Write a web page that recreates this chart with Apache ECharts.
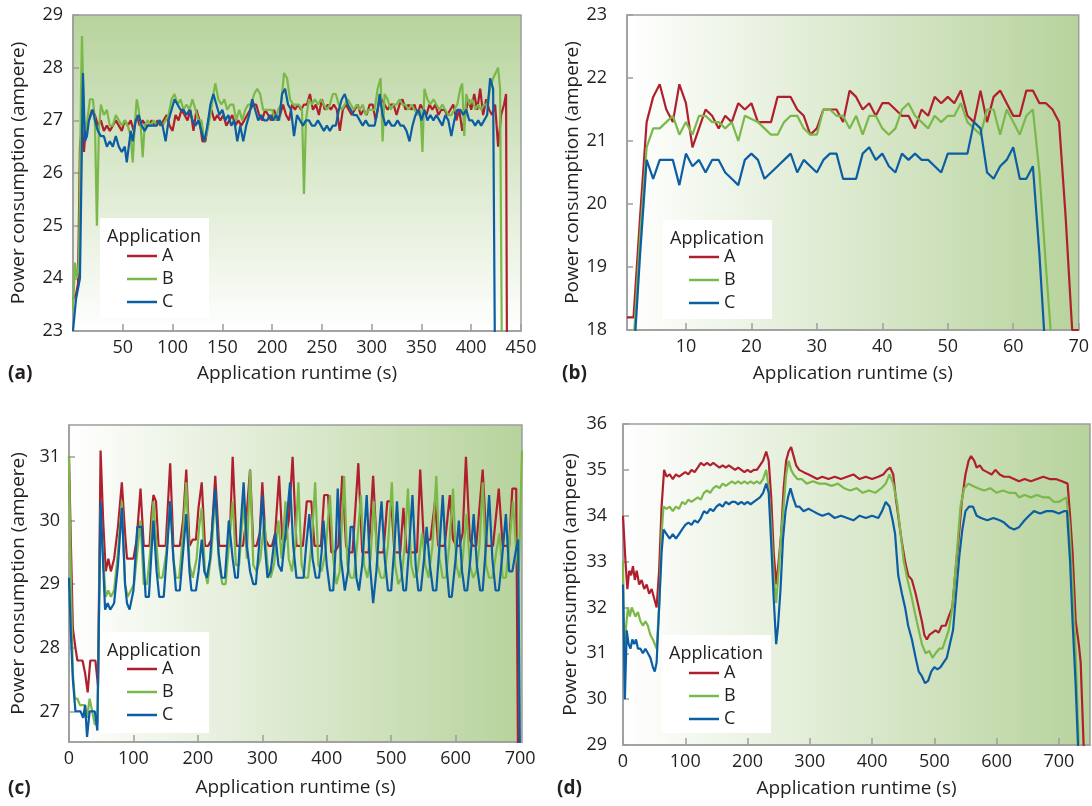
<!DOCTYPE html>
<html>
<head>
<meta charset="utf-8">
<script src="https://cdn.jsdelivr.net/npm/echarts@6.0.0/dist/echarts.min.js"></script>
<style>
  html, body { margin: 0; padding: 0; background: #fff; }
  #chart { width: 1092px; height: 806px; }
</style>
</head>
<body>
<div id="chart"></div>
<script>
// ---- panel (a): [runtime s, ampere]
var aA = [[0,23.6],[3,23.7],[5,23.9],[7,26.5],[9,26.9],[11,26.4],[13,26.9],[16,27.0],[19,27.2],[22,27.1],[25,26.9],[28,27.0],[31,26.8],[34,26.9],[37,26.8],[40,26.9],[43,27.0],[46,26.9],[49,26.8],[52,27.0],[55,26.9],[58,27.0],[61,26.8],[64,27.1],[67,26.9],[70,27.0],[73,26.9],[76,26.9],[79,27.0],[82,26.9],[85,27.0],[88,26.9],[91,27.0],[94,27.1],[97,26.9],[100,26.8],[103,27.1],[106,27.0],[109,27.2],[112,27.1],[115,27.0],[118,27.2],[121,26.8],[124,27.2],[127,27.0],[130,26.6],[133,26.6],[136,27.0],[139,27.2],[142,27.0],[145,27.1],[148,27.0],[151,27.1],[154,26.9],[157,27.0],[160,27.1],[163,26.9],[166,27.0],[169,26.9],[172,27.0],[175,27.1],[178,27.2],[181,27.3],[184,27.3],[187,27.1],[190,27.0],[193,27.2],[196,27.1],[199,27.0],[202,27.2],[205,27.0],[208,27.1],[211,27.3],[214,27.1],[217,27.0],[220,27.3],[223,27.2],[226,27.3],[229,27.2],[232,27.3],[235,27.3],[238,27.5],[241,27.2],[244,27.3],[247,27.1],[250,27.4],[253,27.2],[256,27.3],[259,27.2],[262,27.3],[265,27.2],[268,26.8],[271,27.2],[274,27.3],[277,27.2],[280,27.1],[283,27.2],[286,27.3],[289,27.1],[292,27.2],[295,27.1],[298,27.3],[301,27.3],[304,27.0],[307,27.3],[310,27.4],[313,27.3],[316,27.2],[319,27.3],[322,27.3],[325,27.1],[328,27.3],[331,27.4],[334,27.2],[337,27.3],[340,27.2],[343,27.3],[346,27.1],[349,27.3],[352,27.2],[355,27.1],[358,27.3],[361,27.2],[364,27.3],[367,27.1],[370,27.2],[373,27.2],[376,27.1],[379,27.2],[382,27.3],[385,27.0],[388,27.2],[391,26.8],[394,27.1],[397,27.4],[400,27.2],[403,27.5],[406,27.2],[409,27.6],[412,27.1],[415,27.4],[418,27.2],[421,27.1],[424,27.3],[427,26.5],[430,27.1],[433,27.3],[435,27.5],[436,22.0]];
var aB = [[0,23.4],[2,24.3],[4,24.0],[6,24.3],[8,27.5],[9,28.6],[11,27.0],[13,26.8],[15,27.1],[17,27.4],[20,27.4],[22,27.0],[24,25.0],[26,26.8],[28,27.3],[31,27.1],[34,27.2],[37,26.9],[40,26.9],[43,27.1],[46,27.0],[49,26.9],[52,27.0],[55,26.9],[58,26.7],[60,26.2],[62,26.9],[64,27.4],[66,27.2],[68,26.9],[70,26.3],[72,26.9],[75,27.0],[78,26.9],[81,27.0],[84,26.9],[87,27.0],[90,26.9],[93,27.0],[96,27.1],[99,27.4],[102,27.5],[105,27.3],[108,27.4],[111,27.2],[114,27.3],[117,27.2],[120,27.4],[123,27.2],[126,27.0],[129,27.0],[132,26.6],[135,26.8],[138,27.1],[141,27.5],[143,27.7],[146,27.4],[149,27.3],[152,27.4],[155,27.2],[158,27.3],[161,27.3],[164,27.0],[167,27.2],[170,27.0],[173,27.2],[176,27.3],[179,27.3],[182,27.5],[185,27.6],[188,27.5],[191,27.2],[194,27.2],[197,27.2],[200,27.2],[203,27.0],[206,27.2],[209,27.3],[212,27.9],[215,27.8],[218,27.4],[221,27.3],[224,27.3],[227,27.3],[230,27.2],[232,25.6],[234,27.0],[237,27.4],[240,27.3],[243,27.4],[246,27.3],[249,27.4],[252,27.3],[255,27.2],[258,27.3],[261,27.5],[264,27.5],[267,27.3],[270,27.2],[273,27.3],[276,27.4],[279,27.3],[282,27.2],[285,27.3],[288,27.2],[291,27.3],[294,27.1],[297,27.2],[300,27.2],[303,27.2],[306,27.6],[309,27.8],[311,26.6],[313,27.5],[316,27.4],[319,27.2],[322,27.3],[325,27.3],[328,27.4],[331,27.3],[334,27.3],[337,27.2],[340,27.3],[343,27.2],[346,27.1],[349,27.2],[351,26.4],[353,27.6],[356,27.4],[359,27.3],[362,27.4],[365,27.3],[368,27.2],[371,27.3],[374,27.2],[377,27.1],[380,27.1],[383,27.2],[386,27.3],[389,27.6],[391,27.7],[393,26.7],[395,27.5],[398,27.3],[401,27.4],[404,27.2],[407,27.3],[410,27.2],[413,27.3],[416,27.3],[419,27.6],[422,27.8],[424,27.8],[427,28.0],[429,27.6],[431,22.0]];
var aC = [[0,23.0],[3,23.6],[5,23.6],[7,24.0],[10,27.9],[12,26.6],[14,26.7],[16,27.0],[18,27.1],[20,27.2],[22,27.0],[25,26.8],[28,26.7],[31,26.7],[34,26.5],[37,26.6],[40,26.5],[43,26.7],[46,26.5],[49,26.4],[52,26.5],[54,26.2],[56,26.2],[58,26.8],[60,26.6],[63,27.0],[66,27.1],[69,26.9],[72,26.8],[75,26.9],[78,26.9],[81,26.9],[84,26.9],[87,27.0],[90,26.9],[93,26.6],[96,27.0],[99,27.2],[102,27.4],[105,27.3],[108,27.2],[111,27.2],[114,27.1],[117,27.2],[120,27.0],[123,26.9],[126,27.0],[129,26.8],[132,26.6],[135,26.9],[138,27.3],[141,27.5],[144,27.3],[147,27.1],[150,27.2],[153,27.0],[156,27.1],[159,26.9],[162,27.0],[165,26.6],[168,26.9],[171,26.6],[174,26.9],[177,27.1],[180,27.4],[183,27.2],[186,27.0],[189,27.1],[192,27.0],[195,27.0],[198,27.1],[201,27.0],[204,27.1],[207,27.0],[210,27.5],[213,27.6],[216,27.3],[219,27.2],[222,26.7],[225,27.1],[228,27.0],[231,26.9],[234,27.0],[237,27.0],[240,26.9],[243,26.9],[246,27.0],[249,26.9],[252,26.8],[255,26.9],[258,26.8],[261,26.9],[264,26.9],[267,27.2],[270,27.4],[273,27.5],[276,27.3],[279,27.2],[282,27.1],[285,27.1],[288,27.0],[291,26.9],[294,27.0],[297,26.9],[300,26.9],[303,26.9],[306,27.2],[308,27.5],[311,27.1],[314,26.9],[317,27.0],[320,26.9],[323,26.9],[326,27.0],[329,26.9],[332,26.9],[335,26.8],[338,26.6],[341,26.9],[344,27.1],[347,27.2],[350,27.0],[353,27.2],[356,27.0],[359,27.1],[362,27.0],[365,27.1],[368,27.0],[371,26.9],[374,27.1],[377,27.0],[380,26.7],[383,27.0],[386,27.2],[389,27.2],[392,27.1],[395,27.2],[398,27.0],[401,27.0],[404,26.9],[407,27.0],[410,26.9],[413,27.0],[416,27.1],[419,27.8],[422,27.6],[424,22.0]];

// ---- panel (b): one sample per second
var bTime = [1,2,3,4,5,6,7,8,9,10,11,12,13,14,15,16,17,18,19,20,21,22,23,24,25,26,27,28,29,30,31,32,33,34,35,36,37,38,39,40,41,42,43,44,45,46,47,48,49,50,51,52,53,54,55,56,57,58,59,60,61,62,63,64,65,66,67,68,69,70];
var bA = [18.2,18.2,19.8,21.3,21.7,21.9,21.5,21.3,21.9,21.6,20.9,21.2,21.5,21.4,21.2,21.4,21.3,21.6,21.5,21.6,21.3,21.3,21.3,21.7,21.7,21.7,21.5,21.4,21.1,21.2,21.5,21.5,21.5,21.3,21.8,21.7,21.5,21.6,21.4,21.6,21.6,21.5,21.4,21.4,21.2,21.5,21.4,21.7,21.6,21.7,21.6,21.8,21.4,21.3,21.8,21.3,21.7,21.8,21.6,21.4,21.4,21.8,21.8,21.6,21.6,21.5,21.3,19.8,18.0,18.0];
var bB = [17.0,17.8,19.5,20.9,21.2,21.2,21.3,21.4,21.1,21.3,21.1,21.4,21.4,21.3,21.3,21.2,21.3,21.0,21.4,21.35,21.3,21.2,21.1,21.1,21.3,21.4,21.4,21.2,21.1,21.1,21.5,21.5,21.4,21.4,21.2,21.4,21.1,21.4,21.4,21.2,21.1,21.2,21.5,21.6,21.4,21.3,21.2,21.4,21.3,21.4,21.4,21.6,21.3,21.2,21.1,21.5,21.5,21.1,21.5,21.3,21.1,21.4,21.5,20.5,19.0,17.6,17.0,17.0,17.0,17.0];
var bC = [17.0,17.5,19.2,20.7,20.4,20.7,20.7,20.7,20.3,20.8,20.6,20.7,20.5,20.7,20.7,20.5,20.4,20.3,20.7,20.8,20.7,20.4,20.5,20.6,20.7,20.8,20.5,20.7,20.6,20.5,20.7,20.8,20.8,20.4,20.4,20.4,20.8,20.9,20.7,20.8,20.6,20.5,20.8,20.7,20.8,20.7,20.7,20.6,20.5,20.8,20.8,20.8,20.8,21.3,21.2,20.5,20.4,20.6,20.7,20.9,20.4,20.4,20.6,19.2,17.5,17.0,17.0,17.0,17.0,17.0];

// ---- panel (c)
var cA = [[0,31.0],[3,29.6],[6,28.3],[10,28.0],[13,27.8],[17,27.8],[21,27.8],[25,27.6],[29,27.3],[33,27.8],[37,27.8],[41,27.8],[45,27.4],[49,31.1],[53,30.0],[57,29.2],[61,29.4],[65,29.2],[70,29.4],[76,29.9],[82,30.6],[87,29.8],[90,29.4],[95,29.4],[100,29.4],[105,29.7],[111,30.5],[116,29.6],[121,29.6],[125,29.6],[128,30.1],[131,30.4],[135,30.3],[139,29.6],[144,29.6],[150,29.6],[157,30.9],[162,29.6],[167,29.6],[172,29.6],[177,30.0],[182,30.8],[187,29.6],[192,29.7],[197,29.7],[201,30.2],[206,30.6],[211,29.6],[216,29.6],[221,29.7],[227,30.7],[233,29.6],[238,29.6],[243,29.6],[249,29.6],[254,31.0],[260,29.6],[265,29.6],[270,29.6],[275,30.0],[281,30.8],[286,29.6],[291,29.6],[296,29.8],[300,30.6],[305,29.7],[310,29.6],[315,29.6],[320,29.8],[326,30.7],[331,29.7],[336,29.7],[341,30.0],[347,31.0],[353,29.6],[358,29.6],[363,29.6],[369,30.3],[376,30.3],[381,29.6],[386,29.6],[391,29.6],[396,30.4],[402,30.4],[407,29.5],[412,29.5],[418,29.6],[424,30.7],[430,29.6],[435,29.5],[440,29.5],[449,30.9],[455,29.5],[460,29.5],[465,29.5],[472,30.7],[478,29.5],[483,29.5],[488,29.5],[494,30.3],[500,30.3],[505,29.5],[510,29.5],[514,29.5],[519,30.2],[524,29.5],[529,29.5],[535,29.5],[540,29.5],[545,30.8],[551,29.6],[556,29.7],[561,29.7],[568,30.3],[573,29.6],[578,29.6],[583,29.6],[591,30.4],[596,29.7],[601,29.6],[606,29.6],[611,29.8],[616,31.0],[622,29.7],[627,29.6],[632,29.6],[642,30.8],[648,29.6],[653,29.6],[658,29.6],[667,30.5],[673,29.6],[678,29.6],[683,29.6],[688,30.5],[694,30.5],[697,26.0]];
var cB = [[0,31.0],[3,29.0],[6,27.6],[9,27.2],[13,27.2],[17,27.1],[21,27.1],[25,27.1],[28,26.9],[32,27.2],[36,27.0],[40,26.8],[44,26.8],[49,30.2],[53,29.4],[57,28.8],[61,28.9],[65,28.8],[70,28.9],[76,29.5],[82,30.3],[87,29.0],[91,28.8],[96,28.9],[101,29.0],[106,29.5],[111,30.0],[116,29.0],[121,29.0],[126,29.5],[131,30.3],[136,29.6],[140,29.1],[145,29.1],[151,29.5],[157,30.3],[162,29.4],[166,29.1],[171,29.1],[177,29.8],[182,30.6],[187,29.3],[192,29.1],[198,29.4],[202,29.9],[206,30.2],[211,29.2],[215,29.0],[221,29.5],[227,30.4],[233,29.3],[238,29.0],[243,29.0],[248,29.6],[254,30.3],[259,29.3],[264,29.3],[271,30.3],[276,29.4],[281,30.8],[286,29.3],[291,29.2],[297,29.4],[303,30.0],[308,29.3],[313,29.1],[318,29.3],[325,30.0],[330,29.4],[336,30.3],[341,29.4],[346,29.2],[351,29.6],[356,30.6],[361,29.3],[366,29.1],[371,29.1],[377,29.7],[382,30.6],[387,29.3],[392,29.2],[398,29.5],[405,30.4],[410,29.4],[415,29.0],[420,29.2],[427,30.7],[432,29.3],[437,29.1],[442,29.1],[447,29.6],[453,30.4],[458,29.3],[463,29.1],[468,29.4],[473,30.3],[479,29.3],[484,29.1],[489,29.1],[495,29.6],[501,30.6],[506,29.3],[511,29.0],[516,29.1],[521,29.6],[526,30.5],[531,29.3],[536,29.1],[541,29.2],[548,29.8],[553,29.3],[558,29.1],[564,29.6],[570,30.7],[575,29.4],[580,29.1],[585,29.1],[590,29.6],[596,30.5],[601,29.3],[606,29.1],[611,29.4],[617,30.1],[622,29.3],[627,29.1],[632,29.2],[637,29.6],[642,30.6],[647,29.3],[652,29.1],[657,29.1],[663,29.5],[668,29.8],[673,29.1],[678,29.1],[683,29.6],[689,30.3],[694,29.5],[698,29.2],[703,31.1]];
var cC = [[0,29.1],[3,28.2],[6,27.5],[10,27.0],[14,27.0],[18,27.0],[22,26.9],[25,27.1],[28,26.6],[32,27.0],[36,27.0],[40,27.0],[44,26.7],[49,30.3],[53,29.3],[56,28.6],[60,28.7],[64,28.6],[70,28.7],[76,29.3],[82,30.2],[87,29.0],[90,28.7],[94,28.6],[100,28.9],[106,29.9],[113,29.9],[119,28.8],[124,28.8],[128,29.5],[131,30.0],[136,29.2],[140,28.8],[147,28.8],[152,29.5],[157,30.3],[162,29.4],[166,28.9],[172,28.9],[177,29.5],[182,30.1],[187,29.2],[190,28.9],[197,28.9],[201,29.2],[206,29.7],[210,29.2],[214,29.1],[219,29.4],[223,30.0],[227,30.5],[232,29.5],[237,29.1],[242,29.1],[248,30.0],[254,29.4],[258,29.1],[262,29.1],[267,30.0],[271,30.6],[276,29.6],[281,29.2],[286,29.0],[290,29.0],[295,29.6],[300,30.4],[304,29.6],[308,29.1],[313,29.2],[320,29.8],[325,29.3],[330,29.2],[336,29.8],[343,30.6],[348,29.6],[353,29.1],[359,29.1],[364,29.1],[368,29.6],[373,30.1],[378,29.4],[383,29.1],[388,29.1],[392,29.5],[395,30.0],[400,29.3],[405,28.9],[410,28.9],[414,29.6],[417,30.5],[422,29.4],[428,28.9],[433,29.2],[437,29.9],[441,29.9],[446,29.1],[450,28.9],[455,29.3],[462,30.4],[467,29.3],[472,28.7],[477,29.2],[481,29.8],[485,30.3],[490,29.4],[495,28.9],[500,28.9],[505,29.6],[509,30.3],[514,29.4],[519,28.9],[523,28.9],[528,29.6],[533,30.4],[538,29.3],[542,28.9],[546,28.9],[551,29.4],[555,29.9],[560,29.3],[565,28.9],[570,28.9],[575,29.6],[580,30.4],[585,29.4],[590,28.8],[594,28.8],[600,29.4],[605,30.0],[610,29.2],[614,28.9],[618,28.9],[623,29.4],[628,30.1],[633,29.3],[638,28.9],[642,28.9],[647,29.6],[652,30.4],[657,29.4],[662,28.9],[667,28.9],[672,29.4],[678,30.1],[683,29.2],[688,29.2],[693,29.5],[697,29.7],[700,26.0]];

// ---- panel (d)
var dA = [[0,34.0],[4,33.0],[7,32.4],[10,32.8],[13,32.7],[16,32.9],[19,32.6],[22,32.8],[26,32.5],[30,32.6],[34,32.4],[38,32.5],[42,32.3],[46,32.4],[50,32.2],[54,32.0],[58,32.8],[62,34.2],[66,35.0],[70,34.85],[75,34.9],[80,34.8],[85,34.9],[90,34.85],[95,34.9],[100,34.95],[105,34.9],[110,35.0],[115,34.95],[120,35.05],[125,35.15],[130,35.1],[135,35.15],[140,35.1],[145,35.15],[150,35.1],[155,35.05],[160,35.1],[165,35.05],[170,35.1],[175,35.05],[180,35.0],[185,35.05],[190,35.0],[195,34.95],[200,35.0],[205,34.95],[210,35.0],[215,35.0],[220,35.1],[225,35.2],[230,35.4],[234,35.2],[238,34.4],[242,33.2],[246,32.5],[250,33.0],[254,33.6],[258,34.6],[262,35.2],[266,35.4],[270,35.5],[274,35.3],[278,35.1],[283,35.0],[290,34.95],[298,34.9],[305,34.85],[312,34.8],[320,34.85],[330,34.8],[340,34.85],[350,34.8],[360,34.85],[370,34.9],[380,34.8],[390,34.85],[400,34.8],[410,34.85],[418,34.9],[424,35.0],[429,35.05],[434,34.9],[438,34.4],[442,34.0],[447,33.5],[453,33.0],[458,32.7],[464,32.6],[470,32.3],[475,32.0],[480,31.7],[484,31.4],[488,31.3],[492,31.4],[497,31.45],[502,31.5],[507,31.45],[512,31.6],[518,31.6],[523,31.8],[529,32.0],[534,32.8],[539,33.5],[544,34.3],[550,34.9],[555,35.2],[559,35.3],[564,35.2],[568,35.05],[573,35.1],[578,35.0],[585,34.95],[592,34.9],[598,35.0],[605,34.9],[612,34.85],[620,34.85],[628,34.8],[636,34.75],[645,34.8],[655,34.75],[665,34.8],[675,34.85],[685,34.8],[695,34.8],[705,34.75],[714,34.7],[718,34.0],[722,33.2],[727,31.7],[732,31.2],[735,30.8],[740,28.9]];
var dB = [[0,33.0],[2,31.0],[5,31.6],[8,32.0],[11,31.8],[14,32.0],[17,31.9],[20,31.8],[24,31.9],[28,31.7],[32,31.6],[36,31.7],[40,31.6],[44,31.4],[48,31.3],[51,31.2],[54,31.1],[58,32.0],[62,33.6],[65,34.2],[70,34.15],[75,34.2],[80,34.1],[85,34.2],[90,34.15],[95,34.3],[100,34.25],[105,34.35],[110,34.3],[115,34.35],[120,34.4],[125,34.35],[130,34.5],[135,34.55],[140,34.5],[145,34.6],[150,34.65],[155,34.6],[160,34.7],[165,34.65],[170,34.7],[175,34.75],[180,34.7],[185,34.75],[190,34.7],[195,34.75],[200,34.7],[205,34.75],[210,34.7],[215,34.75],[220,34.7],[225,34.8],[230,35.0],[234,34.6],[238,33.8],[242,32.7],[246,32.1],[250,32.8],[254,33.6],[258,34.2],[262,34.9],[266,35.2],[270,35.0],[274,34.9],[280,34.8],[287,34.8],[295,34.7],[305,34.75],[315,34.7],[325,34.7],[335,34.65],[345,34.7],[355,34.6],[365,34.55],[375,34.6],[385,34.5],[395,34.55],[405,34.5],[415,34.6],[422,34.7],[428,34.9],[434,34.7],[440,34.3],[446,33.6],[451,33.0],[457,32.6],[464,32.2],[470,31.8],[475,31.5],[480,31.2],[486,31.0],[492,31.05],[497,30.9],[502,31.0],[508,31.1],[513,31.1],[518,31.3],[523,31.5],[529,32.0],[535,33.0],[542,34.2],[548,34.6],[555,34.7],[562,34.65],[570,34.6],[580,34.55],[590,34.6],[600,34.5],[610,34.55],[620,34.5],[630,34.5],[636,34.4],[645,34.45],[655,34.4],[665,34.45],[675,34.4],[684,34.4],[692,34.3],[700,34.3],[706,34.35],[712,34.4],[717,33.8],[722,32.5],[727,31.0],[732,28.9]];
var dC = [[0,32.5],[3,30.0],[6,31.5],[9,31.2],[12,31.1],[15,31.3],[18,31.2],[21,31.3],[24,31.1],[28,31.1],[32,31.0],[36,31.1],[40,31.0],[44,30.9],[48,30.7],[51,30.6],[54,30.8],[58,32.0],[62,33.2],[65,33.7],[70,33.6],[75,33.5],[80,33.6],[85,33.5],[90,33.6],[95,33.7],[100,33.8],[105,33.85],[110,33.8],[115,33.9],[120,33.85],[125,33.95],[130,34.1],[135,34.05],[140,34.15],[145,34.1],[150,34.2],[155,34.25],[160,34.2],[165,34.3],[170,34.25],[175,34.3],[180,34.3],[185,34.25],[190,34.3],[195,34.25],[200,34.3],[205,34.25],[210,34.3],[215,34.35],[220,34.4],[225,34.5],[230,34.7],[234,34.5],[238,33.4],[242,32.2],[246,31.2],[249,31.6],[253,32.4],[257,33.5],[261,34.1],[265,34.4],[269,34.6],[273,34.4],[278,34.2],[283,34.2],[290,34.1],[298,34.15],[305,34.1],[312,34.05],[320,34.0],[330,34.05],[340,33.95],[350,34.0],[360,33.95],[370,33.9],[380,34.0],[390,33.95],[400,34.0],[410,33.95],[416,34.1],[422,34.3],[428,34.2],[433,33.9],[437,33.6],[442,32.7],[448,32.3],[453,32.0],[458,31.6],[464,31.3],[470,30.9],[475,30.6],[480,30.5],[485,30.35],[490,30.4],[495,30.6],[500,30.7],[505,30.65],[510,30.7],[515,30.8],[520,30.9],[525,31.2],[530,31.5],[535,32.3],[540,33.1],[545,33.7],[550,34.1],[556,34.2],[562,34.2],[568,34.0],[575,33.95],[585,33.9],[595,33.95],[605,33.9],[612,33.85],[620,33.75],[628,33.7],[636,33.75],[645,33.9],[652,34.0],[660,34.1],[670,34.05],[680,34.1],[690,34.1],[700,34.05],[708,34.1],[713,34.1],[718,33.0],[722,31.7],[727,30.3],[731,28.9]];

// ---- tick labels
var aXTicks = [50,100,150,200,250,300,350,400,450];
var aYTicks = [23,24,25,26,27,28,29];
var bXTicks = [10,20,30,40,50,60,70];
var bYTicks = [18,19,20,21,22,23];
var cXTicks = [0,100,200,300,400,500,600,700];
var cYTicks = [27,28,29,30,31];
var dXTicks = [0,100,200,300,400,500,600,700];
var dYTicks = [29,30,31,32,33,34,35,36];

var seriesNames = ['A', 'B', 'C'];
var legendTitle = 'Application';
var xTitle = 'Application runtime (s)';
var yTitle = 'Power consumption (ampere)';

(function() {
  var ink = '#231f20';
  var frame = '#9d9d9d';
  var colors = ['#b01f2e', '#7bb84a', '#0b5ea4'];
  var green = '#b7d39c';
  var font = "'Open Sans', sans-serif";

  function pairs(t, v) {
    return v.map(function(y, i) { return [t[i], y]; });
  }

  var panels = [
    { tag: '(a)', tagPos: [8, 374], grid: { left: 73, top: 15, width: 448, height: 316 }, vertical: true,
      x: [0, 450], y: [23, 29], xt: aXTicks, yt: aYTicks, yMargin: 10, xGap: 33, yGap: 45,
      data: [aA, aB, aC], box: [100, 218, 109, 100], legend: [127, 247] },
    { tag: '(b)', tagPos: [562, 374], grid: { left: 627, top: 15, width: 454, height: 315 }, vertical: false,
      x: [1, 70], y: [18, 23], xt: bXTicks, yt: bYTicks, yMargin: 20, xGap: 34, yGap: 45,
      data: [pairs(bTime, bA), pairs(bTime, bB), pairs(bTime, bC)], box: [663, 220, 109, 99], legend: [689, 248] },
    { tag: '(c)', tagPos: [8, 789], grid: { left: 69, top: 425, width: 453, height: 317 }, vertical: false,
      x: [0, 703], y: [26.52, 31.5], xt: cXTicks, yt: cYTicks, yMargin: 9, xGap: 36, yGap: 41,
      data: [cA, cB, cC], box: [100, 632, 109, 101], legend: [127, 660] },
    { tag: '(d)', tagPos: [557, 789], grid: { left: 623, top: 424, width: 467, height: 321 }, vertical: false,
      x: [0, 750], y: [29, 36], xt: dXTicks, yt: dYTicks, yMargin: 16, xGap: 34, yGap: 43,
      data: [dA, dB, dC], box: [662, 635, 109, 98], legend: [689, 664] }
  ];

  var option = {
    animation: false,
    backgroundColor: '#ffffff',
    textStyle: { fontFamily: font, color: ink },
    grid: [], xAxis: [], yAxis: [], series: [], legend: [], graphic: []
  };

  panels.forEach(function(p, i) {
    var grad = p.vertical
      ? new echarts.graphic.LinearGradient(0, 1, 0, 0, [{ offset: 0, color: '#ffffff' }, { offset: 1, color: green }])
      : new echarts.graphic.LinearGradient(0, 0, 1, 0, [{ offset: 0, color: '#ffffff' }, { offset: 1, color: green }]);
    option.grid.push(Object.assign({ show: true, borderColor: frame, borderWidth: 1.5, backgroundColor: grad }, p.grid));

    option.xAxis.push({
      type: 'value', gridIndex: i, min: p.x[0], max: p.x[1],
      name: xTitle, nameLocation: 'middle', nameGap: p.xGap,
      nameTextStyle: { fontSize: 19, color: ink, fontFamily: font },
      axisLine: { show: true, lineStyle: { color: frame, width: 1.5 } },
      axisTick: { show: true, inside: true, length: 7, customValues: p.xt, lineStyle: { color: frame, width: 1.5 } },
      axisLabel: { color: ink, fontSize: 18, margin: 8, customValues: p.xt, fontFamily: font },
      splitLine: { show: false }
    });
    option.yAxis.push({
      type: 'value', gridIndex: i, min: p.y[0], max: p.y[1],
      name: yTitle, nameLocation: 'middle', nameGap: p.yGap,
      nameTextStyle: { fontSize: 19, color: ink, fontFamily: font },
      axisLine: { show: true, lineStyle: { color: frame, width: 1.5 } },
      axisTick: { show: true, inside: true, length: 6, customValues: p.yt, lineStyle: { color: frame, width: 1.5 } },
      axisLabel: { color: ink, fontSize: 18, margin: p.yMargin, customValues: p.yt, fontFamily: font },
      splitLine: { show: false }
    });

    seriesNames.forEach(function(name, k) {
      option.series.push({
        name: name, type: 'line', xAxisIndex: i, yAxisIndex: i,
        data: p.data[k], showSymbol: false, symbol: 'none', clip: true,
        lineStyle: { color: colors[k], width: 2.2 }, itemStyle: { color: colors[k] }
      });
    });

    option.legend.push({
      left: p.legend[0], top: p.legend[1], orient: 'vertical', data: seriesNames,
      icon: 'rect', itemWidth: 30, itemHeight: 2.5, itemGap: 5, padding: 0, z: 10,
      selectedMode: false,
      textStyle: { fontSize: 18, color: ink, fontFamily: font }
    });

    option.graphic.push({
      type: 'rect', z: 5, shape: { x: p.box[0], y: p.box[1], width: p.box[2], height: p.box[3] },
      style: { fill: '#ffffff' }
    });
    option.graphic.push({
      type: 'text', z: 10, x: p.box[0] + 7, y: p.box[1] + 19,
      style: { text: legendTitle, fontSize: 18, fill: ink, fontFamily: font, verticalAlign: 'middle' }
    });
    option.graphic.push({
      type: 'text', z: 10, x: p.tagPos[0], y: p.tagPos[1],
      style: { text: p.tag, fontSize: 19, fontWeight: 'bold', fill: ink, fontFamily: font, verticalAlign: 'middle' }
    });
  });

  var chart = echarts.init(document.getElementById('chart'), null, { renderer: 'canvas' });
  chart.setOption(option);
})();
</script>
</body>
</html>
